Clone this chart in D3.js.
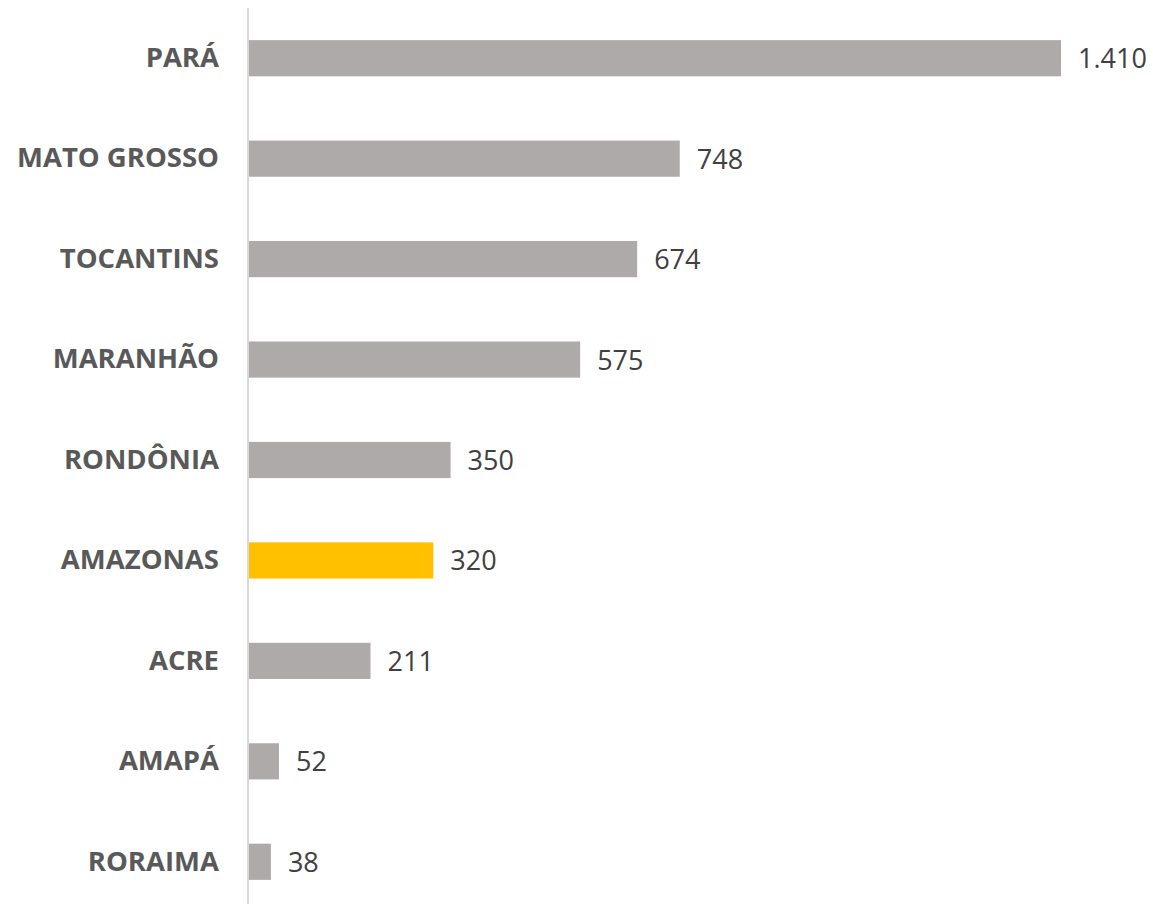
<!DOCTYPE html>
<html>
<head>
<meta charset="utf-8">
<script src="https://cdn.jsdelivr.net/npm/d3@7"></script>
<style>
  body { margin: 0; background: #fff; }
</style>
</head>
<body>
<div id="chart"></div>
<script>
// Data
var states = ["PARÁ", "MATO GROSSO", "TOCANTINS", "MARANHÃO", "RONDÔNIA", "AMAZONAS", "ACRE", "AMAPÁ", "RORAIMA"];
var values = [1410, 748, 674, 575, 350, 320, 211, 52, 38];
var highlight = "AMAZONAS";

// Dimensions
var W = 1153, H = 904;
var x0 = 249;

var svg = d3.select("#chart").append("svg")
    .attr("width", W)
    .attr("height", H);

var x = d3.scaleLinear()
    .domain([0, 1410])
    .range([x0, 1061]);

var y = d3.scaleBand()
    .domain(states)
    .range([8, 912])
    .paddingInner(0.64)
    .paddingOuter(0.32);

var fmt = d3.formatLocale({decimal: ",", thousands: ".", grouping: [3], currency: ["R$", ""]}).format(",d");

// bars
svg.selectAll("rect.bar")
    .data(states)
    .enter().append("rect")
    .attr("class", "bar")
    .attr("x", x(0))
    .attr("y", function(d) { return y(d); })
    .attr("width", function(d, i) { return x(values[i]) - x(0); })
    .attr("height", y.bandwidth())
    .attr("fill", function(d) { return d == highlight ? "#ffc000" : "#aeaaaa"; });

// value labels
svg.selectAll("text.val")
    .data(states)
    .enter().append("text")
    .attr("class", "val")
    .attr("x", function(d, i) { return x(values[i]) + 17; })
    .attr("y", function(d) { return y(d) + y.bandwidth() / 2; })
    .attr("dy", "0.37em")
    .attr("font-family", "Open Sans")
    .attr("font-size", "27px")
    .attr("fill", "#404040")
    .text(function(d, i) { return fmt(values[i]); });

// category axis
var axis = svg.append("g")
    .attr("transform", "translate(" + (x0 - 1) + ",0)")
    .call(d3.axisLeft(y).tickSize(0).tickPadding(29));
axis.select(".domain")
    .attr("d", "M0,8V" + H)
    .attr("stroke", "#d9d9d9")
    .attr("stroke-width", 2);
axis.selectAll("text")
    .attr("font-family", "Open Sans")
    .attr("font-weight", "bold")
    .attr("font-size", "27.5px")
    .attr("fill", "#595959");
</script>
</body>
</html>
